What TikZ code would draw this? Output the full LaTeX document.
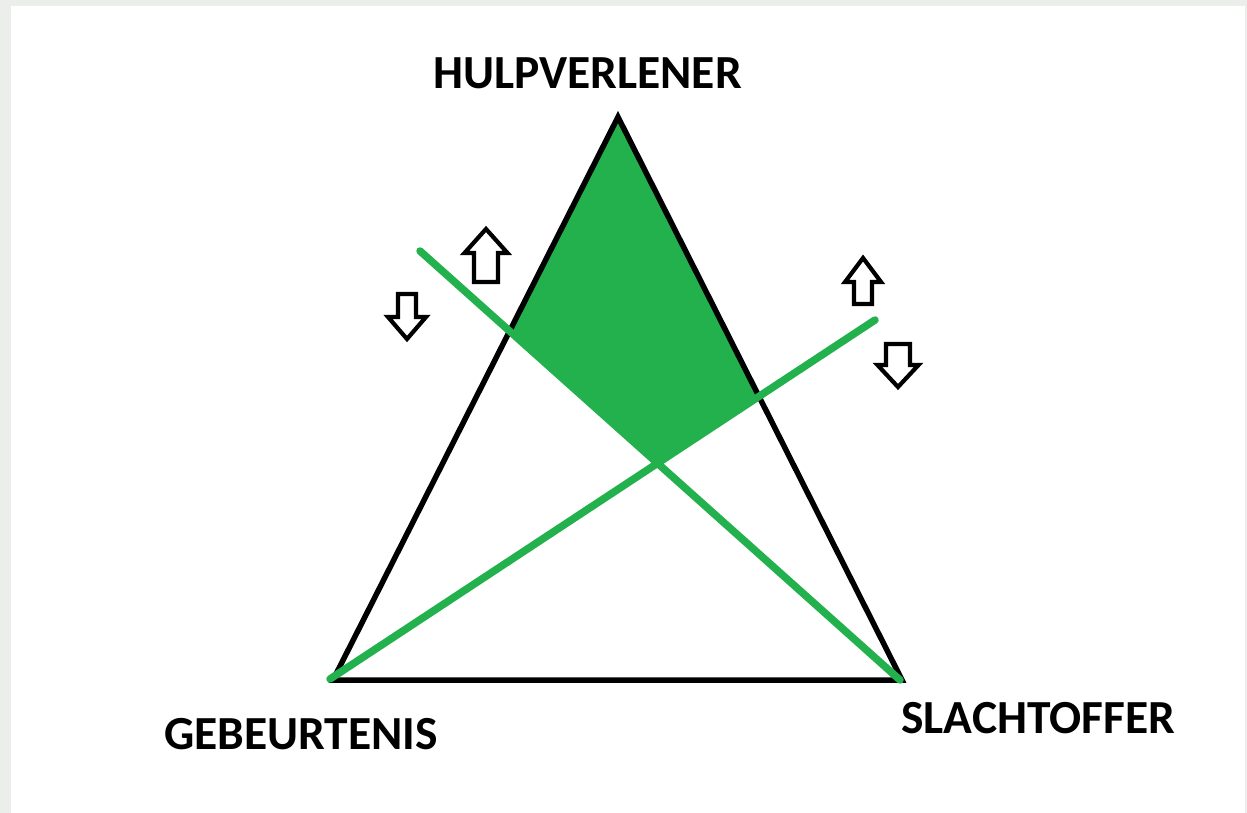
\documentclass[tikz,border=0pt]{standalone}
\usepackage{fontspec}
\setmainfont{Carlito}
\definecolor{paintgreen}{HTML}{22B14C}
\definecolor{framegray}{HTML}{ECEEEB}
\tikzset{
  tri/.style={draw=black, line width=5.5pt, line join=miter},
  gline/.style={draw=paintgreen, line width=7.5pt, line cap=round},
  gfill/.style={fill=paintgreen},
  blockarrow/.style={draw=black, fill=white, line width=4.2pt, line join=miter},
  lbl/.style={inner sep=0pt, font=\fontsize{47.5}{47.5}\selectfont\bfseries, text=black}
}
\begin{document}
\begin{tikzpicture}[x=1pt,y=-1pt]
\useasboundingbox (0,0) rectangle (1247,813);
\fill[framegray] (0,0) rectangle (1247,813);
\fill[white] (11,6) rectangle (1245,813);

% vertices
\coordinate (H) at (618,117);
\coordinate (G) at (333,680);
\coordinate (S) at (902,680);
% green line ends
\coordinate (L1a) at (420,251);
\coordinate (L1b) at (900,680);
\coordinate (L2a) at (330,679);
\coordinate (L2b) at (875,320);
% intersections
\coordinate (P1) at (intersection of G--H and L1a--L1b);
\coordinate (P2) at (intersection of S--H and L2a--L2b);
\coordinate (C) at (intersection of L1a--L1b and L2a--L2b);

% shaded region
\fill[gfill] (H) -- (P1) -- (C) -- (P2) -- cycle;

% triangle
\draw[tri] (H) -- (G) -- (S) -- cycle;

% green lines
\draw[gline] (L1a) -- (L1b);
\draw[gline] (L2a) -- (L2b);

% block arrows
\draw[blockarrow] (486,229) -- (507.5,253) -- (498,253) -- (498,282) -- (474,282) -- (474,253) -- (464.5,253) -- cycle;
\draw[blockarrow] (407,339) -- (426,317) -- (416,317) -- (416,294) -- (398,294) -- (398,317) -- (388,317) -- cycle;
\draw[blockarrow] (863,258) -- (881,282) -- (872,282) -- (872,304) -- (854,304) -- (854,282) -- (845,282) -- cycle;
\draw[blockarrow] (898,387) -- (918.5,365) -- (910,365) -- (910,344) -- (886,344) -- (886,365) -- (877.5,365) -- cycle;

% labels
\node[lbl, anchor=base west] (tH) at (433,88.5) {HULPVERLENER};
\node[lbl, anchor=base west] (tG) at (164,749.5) {GEBEURTENIS};
\node[lbl, anchor=base west] (tS) at (901,733.5) {SLACHTOFFER};
\end{tikzpicture}
\end{document}
